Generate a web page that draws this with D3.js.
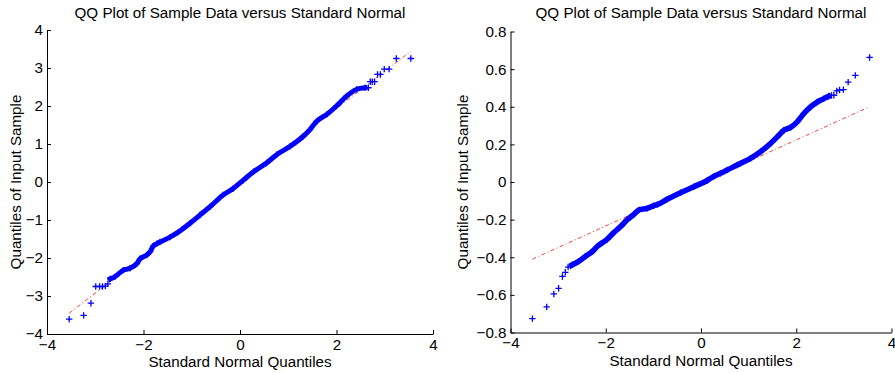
<!DOCTYPE html>
<html>
<head>
<meta charset="utf-8">
<script src="https://cdn.jsdelivr.net/npm/d3@7"></script>
<style>
  body { margin: 0; background: #fff; }
  text { font-family: "Liberation Sans", Arial, Helvetica, sans-serif; fill: #000; }
</style>
</head>
<body>
<div id="chart"></div>
<script>
// values: [standard normal quantile, sample quantile]
const leftLowTail = [[-3.54, -3.61], [-3.24, -3.51], [-3.09, -3.19], [-2.99, -2.75], [-2.91, -2.75],
  [-2.85, -2.75], [-2.79, -2.74], [-2.74, -2.68]];
const leftBand = [[-2.69, -2.55], [-2.59, -2.49], [-2.42, -2.32], [-2.28, -2.27], [-2.14, -2.15],
  [-2.07, -2.02], [-1.93, -1.92], [-1.86, -1.83], [-1.80, -1.69], [-1.72, -1.62], [-1.66, -1.58],
  [-1.45, -1.45], [-1.28, -1.32], [-1.04, -1.09], [-0.83, -0.87], [-0.62, -0.65], [-0.35, -0.34],
  [-0.14, -0.17], [0.07, 0.05], [0.28, 0.27], [0.55, 0.50], [0.76, 0.72], [1.04, 0.94], [1.31, 1.20],
  [1.45, 1.38], [1.59, 1.60], [1.80, 1.78], [2.00, 2.00], [2.21, 2.26], [2.42, 2.44], [2.59, 2.48]];
const leftHighTail = [[2.66, 2.48], [2.70, 2.64], [2.74, 2.64], [2.79, 2.64], [2.85, 2.83], [2.91, 2.83],
  [2.99, 2.97], [3.09, 2.97], [3.24, 3.25], [3.54, 3.25]];
const leftRefLine = [[-3.54, -3.45], [3.54, 3.44]];

const rightLowTail = [[-3.54, -0.726], [-3.24, -0.664], [-3.09, -0.595], [-2.99, -0.565], [-2.91, -0.502],
  [-2.85, -0.480], [-2.79, -0.452], [-2.74, -0.447]];
const rightBand = [[-2.70, -0.440], [-2.57, -0.422], [-2.43, -0.396], [-2.28, -0.369], [-2.18, -0.343],
  [-1.97, -0.304], [-1.83, -0.269], [-1.69, -0.237], [-1.55, -0.201], [-1.41, -0.172], [-1.30, -0.148],
  [-1.13, -0.140], [-0.99, -0.125], [-0.92, -0.120], [-0.71, -0.092], [-0.43, -0.057], [-0.15, -0.025],
  [0.13, 0.008], [0.27, 0.030], [0.41, 0.046], [0.55, 0.064], [0.76, 0.090], [0.83, 0.099],
  [1.04, 0.126], [1.25, 0.161], [1.46, 0.205], [1.60, 0.240], [1.74, 0.275], [1.88, 0.290],
  [2.02, 0.320], [2.16, 0.364], [2.30, 0.399], [2.44, 0.425], [2.58, 0.443], [2.68, 0.456]];
const rightHighTail = [[2.74, 0.460], [2.79, 0.461], [2.85, 0.484], [2.91, 0.489], [2.99, 0.491],
  [3.09, 0.531], [3.24, 0.567], [3.54, 0.662]];
const rightRefLine = [[-3.54, -0.41], [3.54, 0.40]];

const xTicks = [-4, -2, 0, 2, 4];
const xTickLabels = ["\u22124", "\u22122", "0", "2", "4"];
const leftYTicks = [-4, -3, -2, -1, 0, 1, 2, 3, 4];
const leftYLabels = ["\u22124", "\u22123", "\u22122", "\u22121", "0", "1", "2", "3", "4"];
const rightYTicks = [-0.8, -0.6, -0.4, -0.2, 0, 0.2, 0.4, 0.6, 0.8];
const rightYLabels = ["\u22120.8", "\u22120.6", "\u22120.4", "\u22120.2", "0", "0.2", "0.4", "0.6", "0.8"];

const titleText = "QQ Plot of Sample Data versus Standard Normal";
const xLabelText = "Standard Normal Quantiles";
const yLabelText = "Quantiles of Input Sample";

const width = 895;
const height = 373;
const fontSize = "15.2px";

const svg = d3.select("#chart")
  .append("svg")
  .attr("width", width)
  .attr("height", height);

function drawPanel(box, yDomain, yTicks, yLabels, lowTail, band, highTail, refLine, yLabelX, bandWidth) {
  const x = d3.scaleLinear().domain([-4, 4]).range([box.left, box.right]);
  const y = d3.scaleLinear().domain(yDomain).range([box.bottom, box.top]);

  const g = svg.append("g");

  // reference line (under the markers)
  g.append("path")
    .datum(refLine)
    .attr("d", d3.line().x(d => x(d[0])).y(d => y(d[1])))
    .attr("fill", "none")
    .attr("stroke", "#ff0000")
    .attr("stroke-width", 1)
    .attr("stroke-opacity", 0.75)
    .attr("stroke-dasharray", "4,2.5,1,2.5");

  // dense run of markers
  g.append("path")
    .datum(band)
    .attr("d", d3.line().curve(d3.curveMonotoneX).x(d => x(d[0])).y(d => y(d[1])))
    .attr("fill", "none")
    .attr("stroke", "#0000ff")
    .attr("stroke-width", bandWidth)
    .attr("stroke-linejoin", "round")
    .attr("stroke-linecap", "square");

  const pts = lowTail.concat(band, highTail);
  const r = 3.2;
  g.selectAll("path.mark")
    .data(pts)
    .join("path")
    .attr("class", "mark")
    .attr("d", d => {
      const px = x(d[0]), py = y(d[1]);
      return `M${px - r},${py}H${px + r}M${px},${py - r}V${py + r}`;
    })
    .attr("stroke", "#0000ff")
    .attr("stroke-width", 1.3)
    .attr("fill", "none");

  // axes, ticks pointing inwards
  const xAxis = g.append("g")
    .attr("transform", `translate(0,${box.bottom})`)
    .call(d3.axisBottom(x).tickValues(xTicks).tickFormat((d, i) => xTickLabels[i])
      .tickSizeInner(-4).tickSizeOuter(0).tickPadding(5));
  const yAxis = g.append("g")
    .attr("transform", `translate(${box.left},0)`)
    .call(d3.axisLeft(y).tickValues(yTicks).tickFormat((d, i) => yLabels[i])
      .tickSizeInner(-4).tickSizeOuter(0).tickPadding(4));

  [xAxis, yAxis].forEach(a => {
    a.selectAll("text").style("font-size", fontSize).attr("fill", "#000");
    a.selectAll("path, line").attr("stroke", "#000");
  });

  const cx = (box.left + box.right) / 2;
  g.append("text")
    .attr("x", cx)
    .attr("y", 18)
    .attr("text-anchor", "middle")
    .style("font-size", fontSize)
    .text(titleText);

  g.append("text")
    .attr("x", cx)
    .attr("y", box.bottom + 33)
    .attr("text-anchor", "middle")
    .style("font-size", fontSize)
    .text(xLabelText);

  g.append("text")
    .attr("transform", `translate(${yLabelX},${(box.top + box.bottom) / 2}) rotate(-90)`)
    .attr("text-anchor", "middle")
    .style("font-size", fontSize)
    .text(yLabelText);
}

drawPanel({ left: 47, right: 433, top: 30, bottom: 334 }, [-4, 4], leftYTicks, leftYLabels,
  leftLowTail, leftBand, leftHighTail, leftRefLine, 21, 5);
drawPanel({ left: 510.5, right: 891.5, top: 31.5, bottom: 332.5 }, [-0.8, 0.8], rightYTicks, rightYLabels,
  rightLowTail, rightBand, rightHighTail, rightRefLine, 468, 5.5);
</script>
</body>
</html>
